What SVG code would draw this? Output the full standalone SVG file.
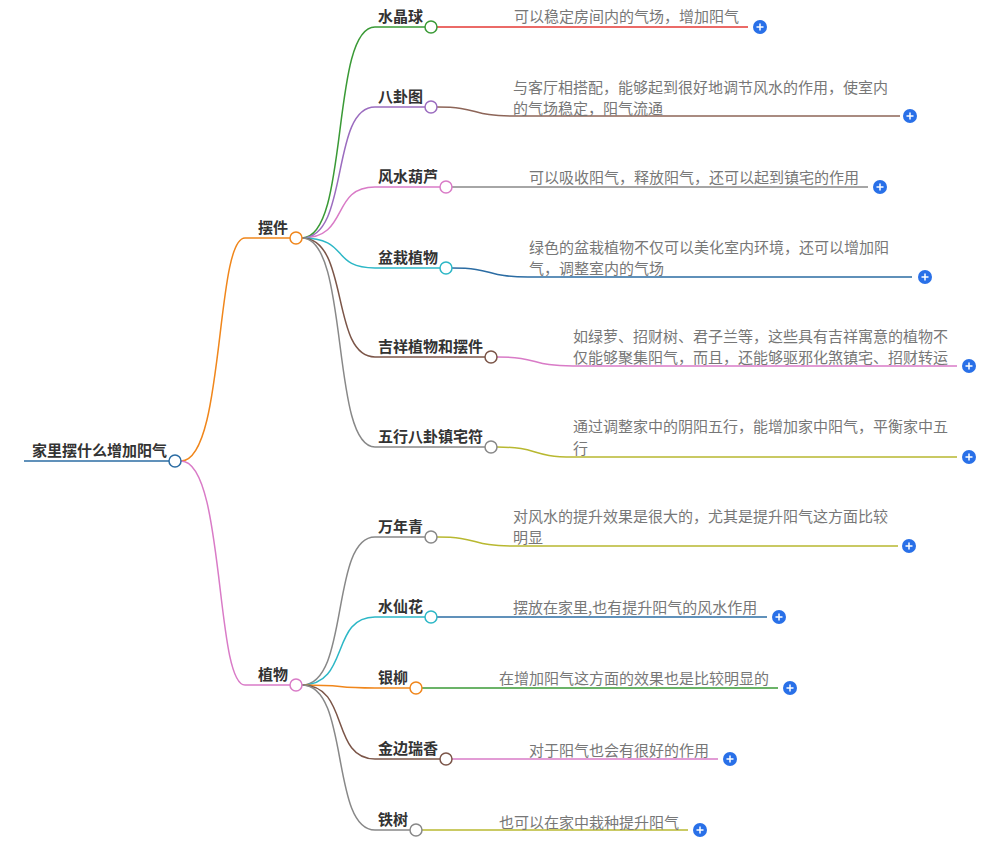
<svg xmlns="http://www.w3.org/2000/svg" width="1001" height="854" viewBox="0 0 1001 854">
<style>
.t{font-family:"Noto Sans CJK SC","Liberation Sans",sans-serif;font-size:15px;font-weight:bold;fill:#333}
.d{font-family:"Noto Sans CJK SC","Liberation Sans",sans-serif;font-size:15px;fill:#777}
path{fill:none;stroke-width:1.5}
circle.n{fill:#fff;stroke-width:1.5}
</style>
<defs><g id="plus"><circle r="7" fill="#2970e8"/><path d="M-3.5,0H3.5M0,-3.5V3.5" stroke="#fff" stroke-width="1.6"/></g></defs>
<g id="connectors">
<path d="M24,461H169" stroke="#2b6ca3" stroke-width="3.5"/>
<path d="M181,461C225,461 215,238 245,238H290" stroke="#f0861b"/>
<path d="M181,461C225,461 215,685 245,685H290" stroke="#d97bc7"/>
<path d="M302,238C350,238 330,27 375,27H425" stroke="#3a9a36"/>
<path d="M302,238C350,238 330,107 375,107H425" stroke="#9b6cbf"/>
<path d="M302,238C350,238 330,187 375,187H440" stroke="#d97bc7"/>
<path d="M302,238C350,238 330,268 375,268H440" stroke="#2cb7c6"/>
<path d="M302,238C350,238 330,357 375,357H485" stroke="#7b5548"/>
<path d="M302,238C350,238 330,447 375,447H485" stroke="#888"/>
<path d="M302,685C350,685 330,537 375,537H425" stroke="#888"/>
<path d="M302,685C350,685 330,617 375,617H425" stroke="#2cb7c6"/>
<path d="M302,685C350,685 330,688 375,688H410" stroke="#f0861b"/>
<path d="M302,685C350,685 330,759 375,759H440" stroke="#7b5548"/>
<path d="M302,685C350,685 330,830 375,830H410" stroke="#888"/>
<path d="M437,27H748" stroke="#e53935"/>
<path d="M437,107C480,107 470,116 513,116H900" stroke="#8d6558"/>
<path d="M452,187H868" stroke="#888"/>
<path d="M452,268C495,268 485,277 528,277H912" stroke="#2b6ca3"/>
<path d="M497,357C540,357 530,366 573,366H957" stroke="#d97bc7"/>
<path d="M497,447C540,447 530,457 573,457H957" stroke="#b8b830"/>
<path d="M437,537C480,537 470,546 513,546H898" stroke="#b8b830"/>
<path d="M437,617H767" stroke="#2b6ca3"/>
<path d="M422,688H778" stroke="#3a9a36"/>
<path d="M452,759H718" stroke="#d97bc7"/>
<path d="M422,830H688" stroke="#b8b830"/>
</g>
<g id="root"><text class="t" x="32" y="456">家里摆什么增加阳气</text><circle class="n" cx="175" cy="461" r="6" stroke="#2b6ca3"/></g>
<g id="n1"><text class="t" x="258" y="233">摆件</text><circle class="n" cx="296" cy="238" r="6" stroke="#f0861b"/></g>
<g id="n2"><text class="t" x="258" y="680">植物</text><circle class="n" cx="296" cy="685" r="6" stroke="#d97bc7"/></g>
<g id="a1"><text class="t" x="378" y="22">水晶球</text><circle class="n" cx="431" cy="27" r="6" stroke="#3a9a36"/><text class="d" x="514" y="22">可以稳定房间内的气场，增加阳气</text><use href="#plus" x="760" y="27"/></g>
<g id="a2"><text class="t" x="378" y="102">八卦图</text><circle class="n" cx="431" cy="107" r="6" stroke="#9b6cbf"/><text class="d" x="513" y="93">与客厅相搭配，能够起到很好地调节风水的作用，使室内</text><text class="d" x="513" y="114">的气场稳定，阳气流通</text><use href="#plus" x="910" y="116"/></g>
<g id="a3"><text class="t" x="378" y="182">风水葫芦</text><circle class="n" cx="446" cy="187" r="6" stroke="#d97bc7"/><text class="d" x="529" y="183">可以吸收阳气，释放阳气，还可以起到镇宅的作用</text><use href="#plus" x="880" y="187"/></g>
<g id="a4"><text class="t" x="378" y="263">盆栽植物</text><circle class="n" cx="446" cy="268" r="6" stroke="#2cb7c6"/><text class="d" x="529" y="253">绿色的盆栽植物不仅可以美化室内环境，还可以增加阳</text><text class="d" x="529" y="274">气，调整室内的气场</text><use href="#plus" x="925" y="277"/></g>
<g id="a5"><text class="t" x="378" y="352">吉祥植物和摆件</text><circle class="n" cx="491" cy="357" r="6" stroke="#7b5548"/><text class="d" x="573" y="342">如绿萝、招财树、君子兰等，这些具有吉祥寓意的植物不</text><text class="d" x="573" y="363">仅能够聚集阳气，而且，还能够驱邪化煞镇宅、招财转运</text><use href="#plus" x="969" y="366"/></g>
<g id="a6"><text class="t" x="378" y="442">五行八卦镇宅符</text><circle class="n" cx="491" cy="447" r="6" stroke="#888"/><text class="d" x="573" y="432">通过调整家中的阴阳五行，能增加家中阳气，平衡家中五</text><text class="d" x="573" y="454">行</text><use href="#plus" x="969" y="457"/></g>
<g id="b1"><text class="t" x="378" y="532">万年青</text><circle class="n" cx="431" cy="537" r="6" stroke="#888"/><text class="d" x="513" y="522">对风水的提升效果是很大的，尤其是提升阳气这方面比较</text><text class="d" x="513" y="543">明显</text><use href="#plus" x="909" y="546"/></g>
<g id="b2"><text class="t" x="378" y="612">水仙花</text><circle class="n" cx="431" cy="617" r="6" stroke="#2cb7c6"/><text class="d" x="513" y="613">摆放在家里,也有提升阳气的风水作用</text><use href="#plus" x="779" y="617"/></g>
<g id="b3"><text class="t" x="378" y="683">银柳</text><circle class="n" cx="416" cy="688" r="6" stroke="#f0861b"/><text class="d" x="499" y="684">在增加阳气这方面的效果也是比较明显的</text><use href="#plus" x="790" y="688"/></g>
<g id="b4"><text class="t" x="378" y="754">金边瑞香</text><circle class="n" cx="446" cy="759" r="6" stroke="#7b5548"/><text class="d" x="529" y="756">对于阳气也会有很好的作用</text><use href="#plus" x="730" y="759"/></g>
<g id="b5"><text class="t" x="378" y="825">铁树</text><circle class="n" cx="416" cy="830" r="6" stroke="#888"/><text class="d" x="499" y="828">也可以在家中栽种提升阳气</text><use href="#plus" x="700" y="830"/></g>
</svg>
